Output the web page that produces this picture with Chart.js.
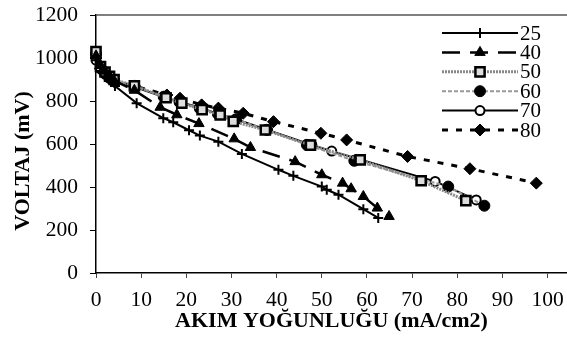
<!DOCTYPE html>
<html>
<head>
<meta charset="utf-8">
<script src="https://cdn.jsdelivr.net/npm/chart.js@4/dist/chart.umd.min.js"></script>
<style>
  html, body { margin: 0; padding: 0; background: #fff; overflow: hidden; }
  #wrap { width: 567px; height: 347px; position: relative; }
  canvas { display: block; }
</style>
</head>
<body>
<div id="wrap"><canvas id="graph"></canvas></div>
<script>
// series labels
const seriesLabels = ['25', '40', '50', '60', '70', '80']

// current density (mA/cm2) and voltage (mV)
const x25 = [0, 1, 2, 3, 4.2, 9, 14.9, 17.1, 20.6, 23, 27.1, 32.3, 40.4, 43.7, 50, 51.1, 53.7, 59.2, 62.5]
const y25 = [990, 955, 928, 900, 870, 790, 720, 701, 664, 639, 611, 554, 480, 452, 402, 387, 364, 297, 256]

const x40 = [0, 1, 2, 3, 4, 8.5, 14.2, 17.9, 22.8, 30.6, 34.2, 44.1, 50, 54.6, 56.5, 59.2, 62.3, 64.9]
const y40 = [1010, 965, 940, 915, 895, 850, 771, 736, 695, 624, 584, 518, 457, 418, 392, 356, 302, 263]

const x50 = [0, 1, 2, 3, 4, 8.5, 15.5, 19, 23.5, 27.5, 30.4, 37.5, 47.5, 58.5, 72, 81.9]
const y50 = [1030, 960, 935, 915, 900, 870, 815, 790, 760, 735, 705, 665, 595, 526, 429, 337]

const x60 = [0, 1, 2, 3, 4, 8.5, 15, 18.5, 23, 27, 31, 37.8, 46.7, 57.2, 78, 86]
const y60 = [1020, 955, 930, 910, 895, 870, 820, 795, 765, 740, 715, 666, 596, 522, 402, 313]

const x70 = [0, 1, 2, 3, 4, 8.5, 15, 18.5, 23, 27, 31, 38, 47.8, 52.2, 75.1, 84.2]
const y70 = [990, 950, 925, 905, 890, 865, 820, 795, 770, 740, 715, 665, 596, 567, 426, 340]

const x80 = [0, 1, 2, 3, 4, 8.5, 15.7, 18.6, 23.4, 27.1, 32.6, 39.3, 49.8, 55.5, 69, 82.8, 97.5]
const y80 = [1000, 950, 925, 905, 890, 870, 828, 813, 782, 767, 743, 704, 650, 619, 542, 485, 418]

// axis ticks and titles
const xTicks = [0, 10, 20, 30, 40, 50, 60, 70, 80, 90, 100]
const yTicks = [0, 200, 400, 600, 800, 1000, 1200]
const xTitle = 'AKIM YOĞUNLUĞU (mA/cm2)'
const yTitle = 'VOLTAJ (mV)'

function pairs(xs, ys) {
  return xs.map((x, i) => ({ x, y: ys[i] }))
}

const serif = "'Liberation Serif', 'Times New Roman', serif"

const datasets = [
  {
    label: seriesLabels[0], data: pairs(x25, y25),
    borderColor: '#000', borderWidth: 2,
    pointStyle: 'cross', pointRadius: 5, pointBorderWidth: 2,
    pointBorderColor: '#000', pointBackgroundColor: '#000'
  },
  {
    label: seriesLabels[1], data: pairs(x40, y40),
    borderColor: '#000', borderWidth: 2.5, borderDash: [18, 10],
    pointStyle: 'triangle', pointRadius: 6, pointBorderWidth: 1,
    pointBorderColor: '#000', pointBackgroundColor: '#000'
  },
  {
    label: seriesLabels[2], data: pairs(x50, y50),
    borderColor: '#888', borderWidth: 3, borderDash: [2, 1],
    pointStyle: 'rect', pointRadius: 6.5, pointBorderWidth: 2.5,
    pointBorderColor: '#000', pointBackgroundColor: '#ddd'
  },
  {
    label: seriesLabels[3], data: pairs(x60, y60),
    borderColor: '#999', borderWidth: 2, borderDash: [4, 2],
    pointStyle: 'circle', pointRadius: 5.5, pointBorderWidth: 1,
    pointBorderColor: '#000', pointBackgroundColor: '#000'
  },
  {
    label: seriesLabels[4], data: pairs(x70, y70),
    borderColor: '#000', borderWidth: 2,
    pointStyle: 'circle', pointRadius: 4.5, pointBorderWidth: 2,
    pointBorderColor: '#000', pointBackgroundColor: '#fff'
  },
  {
    label: seriesLabels[5], data: pairs(x80, y80),
    borderColor: '#000', borderWidth: 3, borderDash: [6, 8],
    pointStyle: 'rectRot', pointRadius: 6, pointBorderWidth: 1,
    pointBorderColor: '#000', pointBackgroundColor: '#000'
  }
].map(ds => Object.assign({ fill: false, tension: 0, showLine: true, clip: 10 }, ds))

// legend inside the plot, the top border line and the y title
const legendBox = {
  id: 'legendBox',
  afterDraw(chart) {
    const ctx = chart.ctx
    const area = chart.chartArea
    ctx.save()
    ctx.strokeStyle = '#555'
    ctx.lineWidth = 1.5
    ctx.beginPath()
    ctx.moveTo(area.left, area.top)
    ctx.lineTo(area.right, area.top)
    ctx.stroke()

    chart.data.datasets.forEach((ds, i) => {
      const y = 33 + i * 19.4
      ctx.strokeStyle = ds.borderColor
      ctx.lineWidth = ds.borderWidth
      ctx.setLineDash(ds.borderDash || [])
      ctx.beginPath()
      ctx.moveTo(442, y)
      ctx.lineTo(518, y)
      ctx.stroke()
      ctx.setLineDash([])

      ctx.fillStyle = ds.pointBackgroundColor
      ctx.strokeStyle = ds.pointBorderColor
      ctx.lineWidth = ds.pointBorderWidth
      Chart.helpers.drawPoint(ctx, {
        pointStyle: ds.pointStyle,
        radius: ds.pointRadius,
        rotation: 0,
        borderWidth: ds.pointBorderWidth
      }, 480, y)

      ctx.fillStyle = '#000'
      ctx.font = '21px ' + serif
      ctx.textBaseline = 'middle'
      ctx.textAlign = 'left'
      ctx.fillText(ds.label, 520, y + 1)
    })

    ctx.translate(23, 161)
    ctx.rotate(-Math.PI / 2)
    ctx.fillStyle = '#000'
    ctx.font = 'bold 22px ' + serif
    ctx.textAlign = 'center'
    ctx.textBaseline = 'middle'
    ctx.fillText(yTitle, 0, 0)
    ctx.restore()
  }
}

new Chart(document.getElementById('graph'), {
  type: 'scatter',
  data: { datasets },
  plugins: [legendBox],
  options: {
    responsive: true,
    maintainAspectRatio: false,
    animation: false,
    layout: { autoPadding: false, padding: { top: 15, right: 0, left: 0, bottom: 0 } },
    plugins: {
      legend: { display: false },
      tooltip: { enabled: false }
    },
    scales: {
      x: {
        type: 'linear',
        min: 0,
        max: 104.3,
        afterBuildTicks: (scale) => { scale.ticks = xTicks.map(v => ({ value: v })) },
        afterFit: (scale) => {
          scale.height = 74
          scale.paddingLeft = 0
          scale.paddingRight = 0
        },
        border: { color: '#000', width: 1.5 },
        grid: { display: true, drawOnChartArea: false, drawTicks: true, tickLength: 5, color: '#444' },
        ticks: { color: '#000', padding: 9, maxRotation: 0, font: { family: serif, size: 21.5 } },
        title: {
          display: true,
          text: xTitle,
          color: '#000',
          padding: { top: 0, bottom: 12 },
          font: { family: serif, size: 22, weight: 'bold' }
        }
      },
      y: {
        min: 0,
        max: 1200,
        afterBuildTicks: (scale) => { scale.ticks = yTicks.map(v => ({ value: v })) },
        afterFit: (scale) => {
          scale.width = 96
          scale.paddingTop = 0
          scale.paddingBottom = 0
        },
        border: { color: '#000', width: 1.5 },
        grid: { display: true, drawOnChartArea: false, drawTicks: true, tickLength: 6, color: '#000' },
        ticks: {
          color: '#000',
          padding: 12,
          font: { family: serif, size: 21.5 },
          callback: (v) => String(v)
        },
        title: { display: false }
      }
    }
  }
})
</script>
</body>
</html>
